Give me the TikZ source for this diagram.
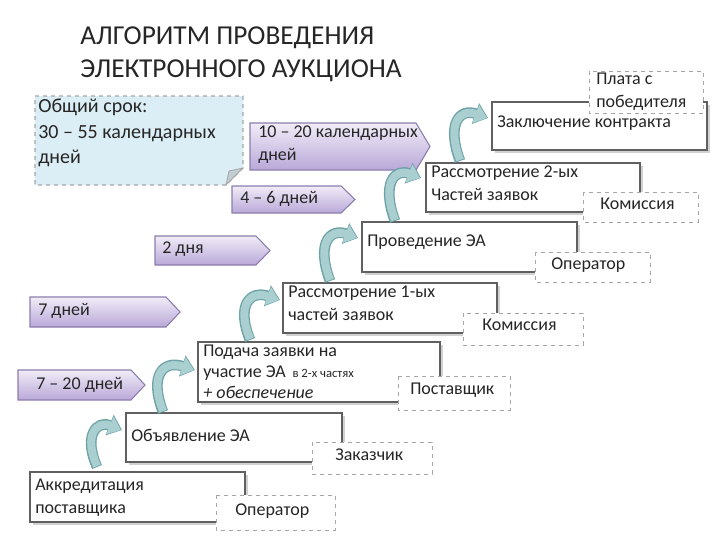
\documentclass[tikz,border=0pt]{standalone}
\usepackage{fontspec}
\setmainfont{Carlito}
\usetikzlibrary{arrows.meta}
\definecolor{teal1}{HTML}{A9CFD1}
\definecolor{teal2}{HTML}{6FA3A7}
\definecolor{pur1}{HTML}{F1ECF7}
\definecolor{pur2}{HTML}{B9A8D8}
\definecolor{purb}{HTML}{8C7DAE}
\definecolor{callf}{HTML}{DCEEF5}
\tikzset{
 stepbox/.style={draw=gray!75!black, fill=white, line width=1.1pt},
 shadowbox/.style={fill=black!18, draw=none},
 rolebox/.style={draw=gray!70, dashed, fill=white, line width=0.7pt},
 txt/.style={anchor=north west, inner sep=0pt, font=\fontsize{13.5pt}{17pt}\selectfont, align=left, text=black!85},
 pent/.style={draw=purb, line width=0.8pt, top color=pur1, bottom color=pur2},
 curv/.style={line width=6pt, teal1, -{Triangle[length=9pt,width=14pt]}},
 curvb/.style={line width=8pt, teal2, -{Triangle[length=10pt,width=16pt]}},
}
\newcommand\stepbx[5]{% x1 y1 x2 y2 name
 \fill[shadowbox] (#1+3,#2+3) rectangle (#3+3,#4+3);
 \draw[stepbox] (#1,#2) rectangle (#3,#4);
 \coordinate (#5) at (#1,#2);}
\newcommand\pentag[5]{% x1 y1 x2 y2 name
 \draw[pent] (#1,#2) -- (#3-14,#2) -- (#3,{(#2+#4)/2}) -- (#3-14,#4) -- (#1,#4) -- cycle;
 \coordinate (#5) at (#1,#2);}
\begin{document}
\begin{tikzpicture}[x=0.75pt,y=-0.75pt]
\useasboundingbox (0,0) rectangle (720,540);
% title
\node[anchor=north west, inner sep=0pt, font=\fontsize{20.5pt}{25pt}\selectfont, align=left, text=black!85] (title) at (80,26) {АЛГОРИТМ ПРОВЕДЕНИЯ\\ЭЛЕКТРОННОГО АУКЦИОНА};
% callout
\draw[fill=callf, draw=gray!70, dashed, line width=0.8pt] (35,96) -- (243,96) -- (243,168) -- (226,185) -- (35,185) -- cycle;
\draw[fill=callf!70!gray, draw=gray!70, line width=0.6pt] (243,168) -- (229,171) -- (226,185) -- cycle;
\node[txt, font=\fontsize{15pt}{19pt}\selectfont] (total) at (38,99) {Общий срок:\\30 – 55 календарных\\дней};
% pentagons
\pentag{250}{123}{430}{170}{p5}
\node[txt] (p5t) at (258,126) {10 – 20 календарных\\дней};
\pentag{232}{186}{355}{213}{p4}
\node[txt] (p4t) at (240,191) {4 – 6 дней};
\pentag{155}{236}{270}{265}{p3}
\node[txt] (p3t) at (162,242) {2 дня};
\pentag{30}{297}{180}{327}{p2}
\node[txt] (p2t) at (38,303) {7 дней};
\pentag{18}{370}{145}{400}{p1}
\node[txt] (p1t) at (36,377) {7 – 20 дней};
% step boxes
\stepbx{492}{102}{707}{150}{b7}
\node[txt] (b7t) at (497,116) {Заключение контракта};
\stepbx{426}{163}{640}{212}{b6}
\node[txt] (b6t) at (431,166) {Рассмотрение 2-ых\\Частей заявок};
\stepbx{362}{222}{577}{272}{b5}
\node[txt] (b5t) at (367,235) {Проведение ЭА};
\stepbx{283}{283}{497}{333}{b4}
\node[txt] (b4t) at (288,286) {Рассмотрение 1-ых\\частей заявок};
\stepbx{198}{342}{440}{402}{b3}
\node[txt, font=\fontsize{13.5pt}{15.5pt}\selectfont] (b3t) at (203,345) {Подача заявки на\\участие ЭА {\fontsize{9.5pt}{10pt}\selectfont\ в 2-х частях}\\\textit{+ обеспечение}};
\stepbx{126}{413}{342}{462}{b2}
\node[txt] (b2t) at (131,429) {Объявление ЭА};
\stepbx{30}{472}{245}{522}{b1}
\node[txt] (b1t) at (35,479) {Аккредитация\\поставщика};
% role boxes
\draw[rolebox] (589,71) rectangle (703,113);
\node[txt] (r7) at (596,73) {Плата с\\победителя};
\draw[rolebox] (583,192) rectangle (698,222);
\node[txt] (r6) at (600,198) {Комиссия};
\draw[rolebox] (535,252) rectangle (650,282);
\node[txt] (r5) at (551,258) {Оператор};
\draw[rolebox] (463,313) rectangle (583,345);
\node[txt] (r4) at (482,319) {Комиссия};
\draw[rolebox] (398,376) rectangle (510,410);
\node[txt] (r3) at (410,383) {Поставщик};
\draw[rolebox] (312,442) rectangle (432,474);
\node[txt] (r2) at (335,449) {Заказчик};
\draw[rolebox] (216,495) rectangle (335,530);
\node[txt] (r1) at (235,504) {Оператор};
% curved arrows
\foreach \sx/\sy/\tx/\ty in {97/467/124/430, 163/412/197/370, 250/340/282/300, 330/281/360/238, 395/221/423/178, 460/161/490/118}{
 \draw[curvb] (\sx,\sy) .. controls (\sx-14,\ty+5) and (\sx,\ty-10) .. (\tx-2,\ty);
 \draw[curv] (\sx,\sy-1) .. controls (\sx-14,\ty+5) and (\sx,\ty-10) .. (\tx-3,\ty);
}
\end{tikzpicture}
\end{document}
